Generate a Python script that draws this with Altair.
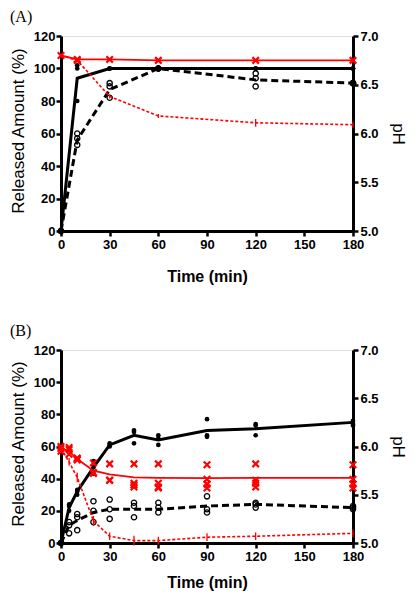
import altair as alt
import pandas as pd

# ---------------- Panel A data ----------------
A_time = [0, 10, 30, 60, 120, 180]
A_solid_mean = [0, 94, 100, 100, 100, 100]
A_solid_reps = [[0, 0, 0], [102, 100, 80], [100, 100, 100], [100, 100, 100], [100, 100, 100], [100, 100, 100]]
A_dash_mean = [0, 56, 87, 100, 93, 91]
A_dash_reps = [[0, 0, 0], [60, 57, 53], [91, 89, 82], [100, 100, 100], [97, 94, 89], [91, 91, 91]]
A_ph_solid_mean = [6.80, 6.76, 6.76, 6.75, 6.75, 6.75]
A_ph_solid_reps = [[6.80], [6.76, 6.75], [6.76], [6.75], [6.75], [6.75]]
A_ph_dash = [6.80, 6.75, 6.38, 6.18, 6.11, 6.09]
A_ph_dash_err = [0.01, 0.02, 0.02, 0.02, 0.04, 0.03]

# ---------------- Panel B data ----------------
B_time = [0, 5, 10, 20, 30, 45, 60, 90, 120, 180]
B_solid_mean = [0, 22, 32, 47, 61, 67, 64, 70, 71, 75]
B_solid_reps = [[0, 0, 0], [24, 23, 20], [33, 32, 30], [51, 47, 43], [62, 61, 60],
                [70, 69, 62], [67, 65, 61], [77, 67, 66], [74, 73, 67], [76, 74, 73]]
B_dash_mean = [0, 11, 14, 19, 21, 21, 21, 23, 24, 22]
B_dash_reps = [[0, 0, 0], [13, 11, 6], [18, 16, 8], [26, 20, 13], [27, 21, 15],
               [25, 23, 16], [25, 22, 19], [29, 21, 19], [25, 24, 22], [23, 22, 21]]
B_ph_solid_mean = [5.98, 5.95, 5.87, 5.75, 5.71, 5.68, 5.675, 5.673, 5.675, 5.675]
B_ph_solid_reps = [[6.00, 5.98, 5.95], [5.99, 5.97, 5.92], [5.88, 5.87, 5.86], [5.83, 5.73, 5.72],
                   [5.82, 5.65, 5.65], [5.82, 5.62, 5.60, 5.58], [5.82, 5.62, 5.58, 5.57],
                   [5.81, 5.66, 5.61, 5.57], [5.82, 5.65, 5.62, 5.58], [5.81, 5.66, 5.61, 5.57]]
B_ph_dash = [5.98, 5.84, 5.68, 5.23, 5.07, 5.025, 5.025, 5.06, 5.07, 5.10]
B_ph_dash_err = [0.02, 0.04, 0.05, 0.05, 0.04, 0.05, 0.04, 0.04, 0.04, 0.04]

X_TICKS = [0, 30, 60, 90, 120, 150, 180]
L_TICKS = [0, 20, 40, 60, 80, 100, 120]
R_TICKS = [5.0, 5.5, 6.0, 6.5, 7.0]

FONT = "Liberation Sans"
W = 292
XSHAPE = "M-1,-1L1,1M-1,1L1,-1"


def reps_df(times, reps, col):
    rows = []
    for t, vals in zip(times, reps):
        for v in vals:
            rows.append({"t": t, col: v})
    return pd.DataFrame(rows)


def make_panel(label, times, solid_mean, solid_reps, dash_mean, dash_reps,
               ph_solid_mean, ph_solid_reps, ph_dash, ph_dash_err, height, label_y, title_y):
    common = dict(grid=False, domainWidth=3, domainColor="black", tickColor="black",
                  tickWidth=2.5, tickSize=5, labelFont=FONT, labelFontSize=13,
                  labelFontWeight="bold", labelColor="black", titleFont=FONT,
                  titleColor="black", labelOverlap=False)
    x = alt.X("t:Q", scale=alt.Scale(domain=[0, 180], nice=False, zero=False),
              axis=alt.Axis(values=X_TICKS, title="Time (min)", labelPadding=2,
                            labelFlush=False, titleFontSize=16, titleFontWeight="bold",
                            titleX=W / 2, titleY=title_y, titleBaseline="top",
                            titleAlign="center", **common))
    left_axis = alt.Axis(values=L_TICKS, format="d", orient="left",
                         title="Released Amount (%)", labelPadding=1,
                         titleFontSize=17, titleFontWeight="normal",
                         titleX=-34, titleY=height / 2 - 3, titleAngle=-90,
                         titleBaseline="bottom", titleAlign="center", **common)
    right_axis = alt.Axis(values=R_TICKS, format=".1f", orient="right", title="pH",
                          labelPadding=2, titleFontSize=17, titleFontWeight="normal",
                          titleX=35, titleY=height / 2, titleAngle=90,
                          titleBaseline="bottom", titleAlign="center", **common)
    lscale = alt.Scale(domain=[0, 120], nice=False, zero=False)
    rscale = alt.Scale(domain=[5, 7], nice=False, zero=False)
    yL = alt.Y("v:Q", scale=lscale, axis=left_axis)
    yR = alt.Y("ph:Q", scale=rscale, axis=right_axis)

    df_solid = pd.DataFrame({"t": times, "v": solid_mean})
    df_dash = pd.DataFrame({"t": times, "v": dash_mean})
    df_solid_p = reps_df(times, solid_reps, "v")
    df_dash_p = reps_df(times, dash_reps, "v")
    df_ph_s = pd.DataFrame({"t": times, "ph": ph_solid_mean})
    df_ph_sp = reps_df(times, ph_solid_reps, "ph")
    df_ph_d = pd.DataFrame({"t": times, "ph": ph_dash,
                            "lo": [a - e for a, e in zip(ph_dash, ph_dash_err)],
                            "hi": [a + e for a, e in zip(ph_dash, ph_dash_err)]})

    left = alt.layer(
        alt.Chart(df_solid).mark_line(color="black", strokeWidth=3).encode(x=x, y=yL),
        alt.Chart(df_dash).mark_line(color="black", strokeWidth=3, strokeDash=[7, 4]).encode(x=x, y=yL),
        alt.Chart(df_solid_p).mark_point(filled=True, color="black", size=22, opacity=1,
                                          shape="circle").encode(x=x, y=yL),
        alt.Chart(df_dash_p).mark_point(filled=False, color="black", size=28, strokeWidth=1.3,
                                         opacity=1, shape="circle").encode(x=x, y=yL),
        alt.Chart(pd.DataFrame({"lab": [label]})).mark_text(
            align="left", baseline="top", font="Liberation Serif", fontSize=16, color="black"
        ).encode(x=alt.value(-51), y=alt.value(label_y), text="lab:N"),
    )
    right = alt.layer(
        alt.Chart(df_ph_s).mark_line(color="#ff0000", strokeWidth=1.8).encode(x=x, y=yR),
        alt.Chart(df_ph_d).mark_line(color="#ff0000", strokeWidth=1.6, strokeDash=[3, 2]).encode(x=x, y=yR),
        alt.Chart(df_ph_d).mark_rule(color="#ff0000", strokeWidth=1.3).encode(
            x=x, y=alt.Y("lo:Q", scale=rscale, axis=right_axis), y2="hi:Q"),
        alt.Chart(df_ph_sp).mark_point(shape=XSHAPE, color="#ff0000", size=42, strokeWidth=2.2,
                                        opacity=1, filled=False).encode(x=x, y=yR),
    )
    return alt.layer(left, right).resolve_scale(y="independent").properties(width=W, height=height)


panelA = make_panel("(A)", A_time, A_solid_mean, A_solid_reps, A_dash_mean, A_dash_reps,
                    A_ph_solid_mean, A_ph_solid_reps, A_ph_dash, A_ph_dash_err, 195, -27, 37)
panelB = make_panel("(B)", B_time, B_solid_mean, B_solid_reps, B_dash_mean, B_dash_reps,
                    B_ph_solid_mean, B_ph_solid_reps, B_ph_dash, B_ph_dash_err, 193, -27, 31)

chart = alt.vconcat(panelA, panelB, spacing=119, bounds="flush").properties(
    padding={"left": 0, "top": 0, "right": 0, "bottom": 0}
).configure_view(stroke=None).configure(background="white")

chart.save("out.html", embed_options={"renderer": "svg", "actions": False})
